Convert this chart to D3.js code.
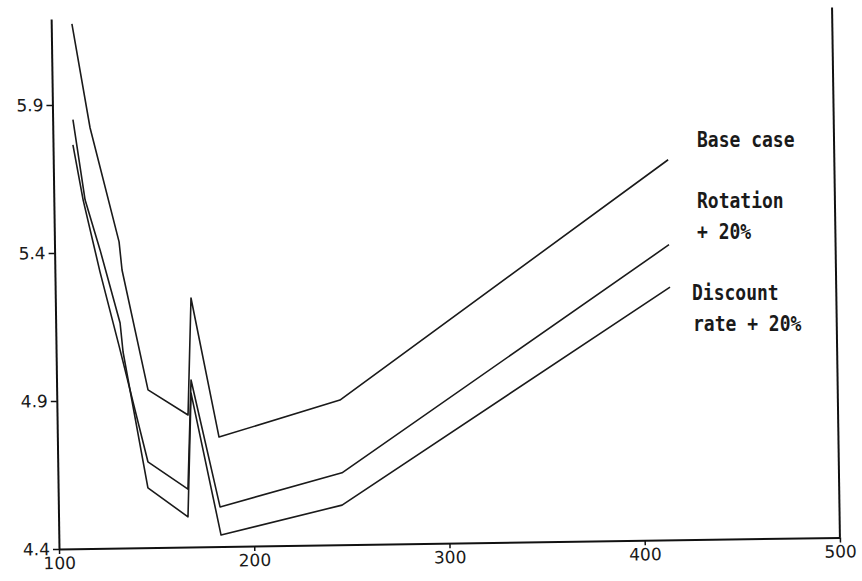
<!DOCTYPE html>
<html>
<head>
<meta charset="utf-8">
<script src="https://cdn.jsdelivr.net/npm/d3@7"></script>
<style>
  body { margin: 0; background: #fff; }
  .series { fill: none; stroke: #1a1a1a; stroke-width: 1.6; stroke-linejoin: round; }
  .legendText { font-family: "DejaVu Sans Mono", monospace; font-weight: bold; font-size: 18px; fill: #1a1a1a; }
</style>
</head>
<body>
<div id="chart"></div>
<script>
// data
var baseX = [110.6, 119.1, 133.1, 134.4, 146.8, 167.1, 169.5, 182.8, 245.0, 414.9];
var baseY = [6.173, 5.821, 5.434, 5.339, 4.933, 4.846, 5.241, 4.770, 4.889, 5.684];

var rotationX = [110.2, 115.0, 123.1, 132.3, 146.2, 166.5, 168.9, 182.8, 245.5, 414.7];
var rotationY = [5.764, 5.578, 5.334, 5.083, 4.690, 4.596, 4.964, 4.534, 4.643, 5.397];

var discountX = [110.4, 116.0, 123.3, 133.0, 134.3, 146.0, 166.3, 168.8, 183.1, 245.3, 414.9];
var discountY = [5.849, 5.578, 5.408, 5.160, 5.062, 4.602, 4.502, 4.920, 4.439, 4.534, 5.254];

var xTicks = [100, 200, 300, 400, 500];
var yTicks = [4.4, 4.9, 5.4, 5.9];

var legendLines = [
  { text: "Base case", x: 697, y: 147 },
  { text: "Rotation", x: 697, y: 208 },
  { text: "+ 20%", x: 697, y: 239 },
  { text: "Discount", x: 692, y: 300 },
  { text: "rate + 20%", x: 693, y: 331 }
];

var svgWidth = 862;
var svgHeight = 581;

var margin = { top: 19, left: 59 };
var width = 781;
var height = 530;

var svg = d3.select("#chart")
  .append("svg")
  .attr("width", svgWidth)
  .attr("height", svgHeight);

// the scan is tilted a little, so the plot group is turned to match
var chartGroup = svg.append("g")
  .attr("transform", `translate(${margin.left}, ${margin.top}) rotate(-0.85, 0, ${height})`);

var xLinearScale = d3.scaleLinear().domain([100, 500]).range([0, width]);
var yLinearScale = d3.scaleLinear().domain([4.4, 6.19]).range([height, 0]);

var bottomAxis = d3.axisBottom(xLinearScale)
  .tickValues(xTicks)
  .tickFormat(d3.format("d"))
  .tickSize(5)
  .tickSizeOuter(0)
  .tickPadding(3);

var leftAxis = d3.axisLeft(yLinearScale)
  .tickValues(yTicks)
  .tickFormat(d3.format(".1f"))
  .tickSize(6)
  .tickSizeOuter(0)
  .tickPadding(3);

var xAxis = chartGroup.append("g")
  .attr("transform", `translate(0, ${height})`)
  .call(bottomAxis);

var yAxis = chartGroup.append("g")
  .call(leftAxis);

// right frame line
chartGroup.append("line")
  .attr("x1", xLinearScale(500))
  .attr("x2", xLinearScale(500))
  .attr("y1", yLinearScale(4.4))
  .attr("y2", yLinearScale(6.19))
  .attr("stroke", "#111")
  .attr("stroke-width", 2);

[xAxis, yAxis].forEach(function(ax) {
  ax.select(".domain").attr("stroke", "#111").attr("stroke-width", 2);
  ax.selectAll(".tick line").attr("stroke", "#111").attr("stroke-width", 1.5);
  ax.selectAll(".tick text")
    .attr("fill", "#1a1a1a")
    .style("font-family", "DejaVu Sans, sans-serif")
    .style("font-size", "17px");
});

var seriesList = [
  { xs: baseX, ys: baseY },
  { xs: rotationX, ys: rotationY },
  { xs: discountX, ys: discountY }
];

var lineGen = d3.line()
  .x(d => xLinearScale(d[0]))
  .y(d => yLinearScale(d[1]));

seriesList.forEach(function(s) {
  var pts = s.xs.map((x, i) => [x, s.ys[i]]);
  chartGroup.append("path")
    .attr("class", "series")
    .attr("d", lineGen(pts));
});

// labels to the right of the lines
svg.selectAll(".legendText")
  .data(legendLines)
  .enter()
  .append("text")
  .attr("class", "legendText")
  .attr("transform", d => `translate(${d.x}, ${d.y}) scale(1, 1.2)`)
  .text(d => d.text);
</script>
</body>
</html>
